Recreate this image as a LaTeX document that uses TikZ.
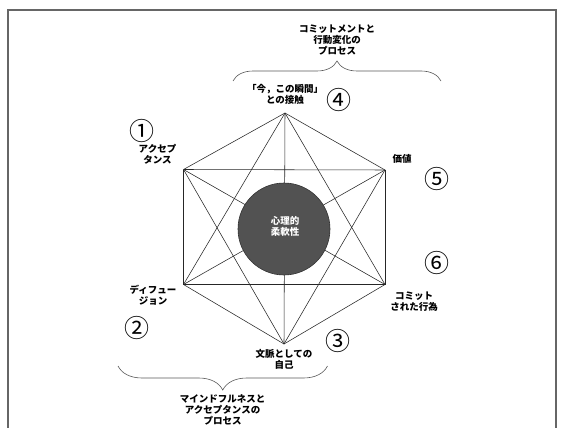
\documentclass[tikz,border=0pt]{standalone}
\usepackage{fontspec}
\setmainfont{Noto Sans CJK JP}
\usetikzlibrary{decorations.pathreplacing}
\begin{document}
\begin{tikzpicture}[x=1pt,y=-1pt,
  edge/.style={line width=0.55pt, black!85},
  frameline/.style={line width=1.2pt, black!60},
  lbl/.style={font=\fontsize{9.5}{11.2}\selectfont\bfseries, align=center, inner sep=0pt},
  wlbl/.style={lbl, text=white},
  num/.style={font=\fontsize{25}{25}\selectfont, inner sep=0pt},
  bracetop/.style={decorate, decoration={brace, amplitude=20pt}, line width=0.6pt, black!65},
  bracebot/.style={decorate, decoration={brace, amplitude=24pt}, line width=0.6pt, black!65}]
\useasboundingbox (0,0) rectangle (563,428);
\fill[white] (0,0) rectangle (563,428);
% frame
\coordinate (f1) at (8,428);
\coordinate (f2) at (8,10);
\coordinate (f3) at (556,10);
\coordinate (f4) at (556,428);
\draw[frameline] (f1) -- (f2) -- (f3) -- (f4);
% hexagon vertices
\coordinate (T) at (285,113);
\coordinate (UL) at (183.5,169.5);
\coordinate (UR) at (385,170);
\coordinate (LL) at (183.5,284.5);
\coordinate (LR) at (385,284.5);
\coordinate (B) at (284,344);
% complete graph
\foreach \a/\b in {T/UR,UR/LR,LR/B,B/LL,LL/UL,UL/T,
                   T/LR,T/LL,UR/B,UR/UL,LR/LL,B/UL,
                   T/B,UL/LR,UR/LL}
  \draw[edge] (\a) -- (\b);
% central circle
\coordinate (C) at (284,229);
\fill[black!68] (C) circle[radius=46];
\draw[line width=0.6pt, black!80] (C) circle[radius=46];
\node[wlbl] (core) at (285,226.5) {心理的\\柔軟性};
% labels
\node[lbl] (top) at (337,40) {コミットメントと\\行動変化の\\プロセス};
\node[lbl] (now) at (285,94) {「今，この瞬間」\\との接触};
\node[lbl] (acc) at (157.5,154) {アクセプ\\タンス};
\node[lbl] (val) at (402,159) {価値};
\node[lbl] (com) at (414,302) {コミット\\された行為};
\node[lbl] (def) at (153,295.5) {ディフュー\\ジョン};
\node[lbl] (self) at (284,359) {文脈としての\\自己};
\node[lbl] (bot) at (222.6,410) {マインドフルネスと\\アクセプタンスの\\プロセス};
% numbers
\node[num] (n1) at (141.5,131) {①};
\node[num] (n2) at (136.7,328) {②};
\node[num] (n3) at (338.3,341) {③};
\node[num] (n4) at (339,100) {④};
\node[num] (n5) at (436.7,179) {⑤};
\node[num] (n6) at (436.7,263) {⑥};
% braces
\coordinate (bt1) at (233,81);
\coordinate (bt2) at (441,81);
\draw[bracetop] (bt1) -- (bt2);
\coordinate (bb1) at (327.5,366);
\coordinate (bb2) at (118,366);
\draw[bracebot] (bb1) -- (bb2);
\end{tikzpicture}
\end{document}
